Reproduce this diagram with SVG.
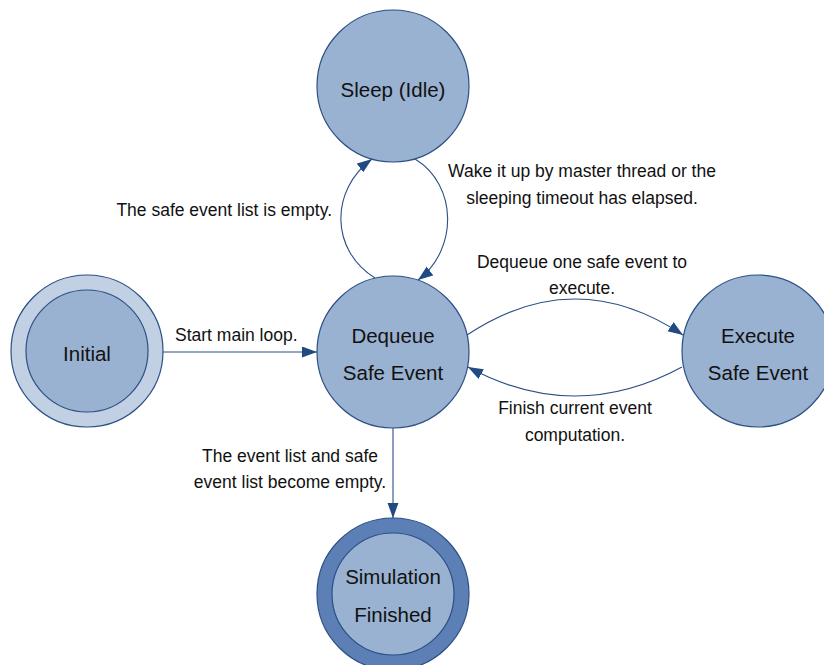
<svg xmlns="http://www.w3.org/2000/svg" width="824" height="665" viewBox="0 0 824 665">
<defs>
<style>
.st{fill:#9ab2d1;stroke:#2c4f85;stroke-width:1.2}
.lt{fill:#c2d0e3;stroke:#2c4f85;stroke-width:1.2}
.dk{fill:#5c80b5;stroke:#2c4f85;stroke-width:1.2}
.nl{font-family:"Liberation Sans",Arial,sans-serif;font-size:20.5px;fill:#111;text-anchor:middle}
.el{font-family:"Liberation Sans",Arial,sans-serif;font-size:17.5px;fill:#111}
.c{fill:none;stroke:#2c4f85;stroke-width:1.1}
</style>
<marker id="ah" markerUnits="userSpaceOnUse" markerWidth="16" markerHeight="12" refX="15" refY="5.5" orient="auto">
<path d="M0,0 L15,5.5 L0,11 z" fill="#1f4a82"/>
</marker>
</defs>
<rect width="824" height="665" fill="#fff"/>
<g id="connectors">
<path class="c" d="M162,352 L317,352" marker-end="url(#ah)"/>
<path class="c" d="M393,428 L393,518" marker-end="url(#ah)"/>
<path class="c" d="M375,278 C330,250 330,190 372,159" marker-end="url(#ah)"/>
<path class="c" d="M415,159 C458,185 458,250 418,280" marker-end="url(#ah)"/>
<path class="c" d="M467,335 Q575,263 683,335" marker-end="url(#ah)"/>
<path class="c" d="M682,367 Q575,425 468,367" marker-end="url(#ah)"/>
<text class="el" x="175" y="341">Start main loop.</text>
<text class="el" x="332" y="216" text-anchor="end">The safe event list is empty.</text>
<text class="el" x="582" y="177" text-anchor="middle">Wake it up by master thread or the</text>
<text class="el" x="582" y="204" text-anchor="middle">sleeping timeout has elapsed.</text>
<text class="el" x="582" y="268" text-anchor="middle">Dequeue one safe event to</text>
<text class="el" x="582" y="294" text-anchor="middle">execute.</text>
<text class="el" x="575" y="414" text-anchor="middle">Finish current event</text>
<text class="el" x="575" y="441" text-anchor="middle">computation.</text>
<text class="el" x="290" y="462" text-anchor="middle">The event list and safe</text>
<text class="el" x="290" y="488" text-anchor="middle">event list become empty.</text>
</g>
<g id="sleep">
<circle class="st" cx="393" cy="86" r="76"/>
<text class="nl" x="393" y="97">Sleep (Idle)</text>
</g>
<g id="initial">
<circle class="lt" cx="87" cy="351" r="76"/>
<circle class="st" cx="87" cy="351" r="61"/>
<text class="nl" x="87" y="361">Initial</text>
</g>
<g id="dequeue">
<circle class="st" cx="393" cy="352" r="76"/>
<text class="nl" x="393" y="343">Dequeue</text>
<text class="nl" x="393" y="380">Safe Event</text>
</g>
<g id="execute">
<circle class="st" cx="758" cy="351" r="76"/>
<text class="nl" x="758" y="343">Execute</text>
<text class="nl" x="758" y="380">Safe Event</text>
</g>
<g id="finished">
<circle class="dk" cx="393" cy="594" r="76"/>
<circle class="st" cx="393" cy="594" r="61"/>
<text class="nl" x="393" y="584">Simulation</text>
<text class="nl" x="393" y="622">Finished</text>
</g>
</svg>
